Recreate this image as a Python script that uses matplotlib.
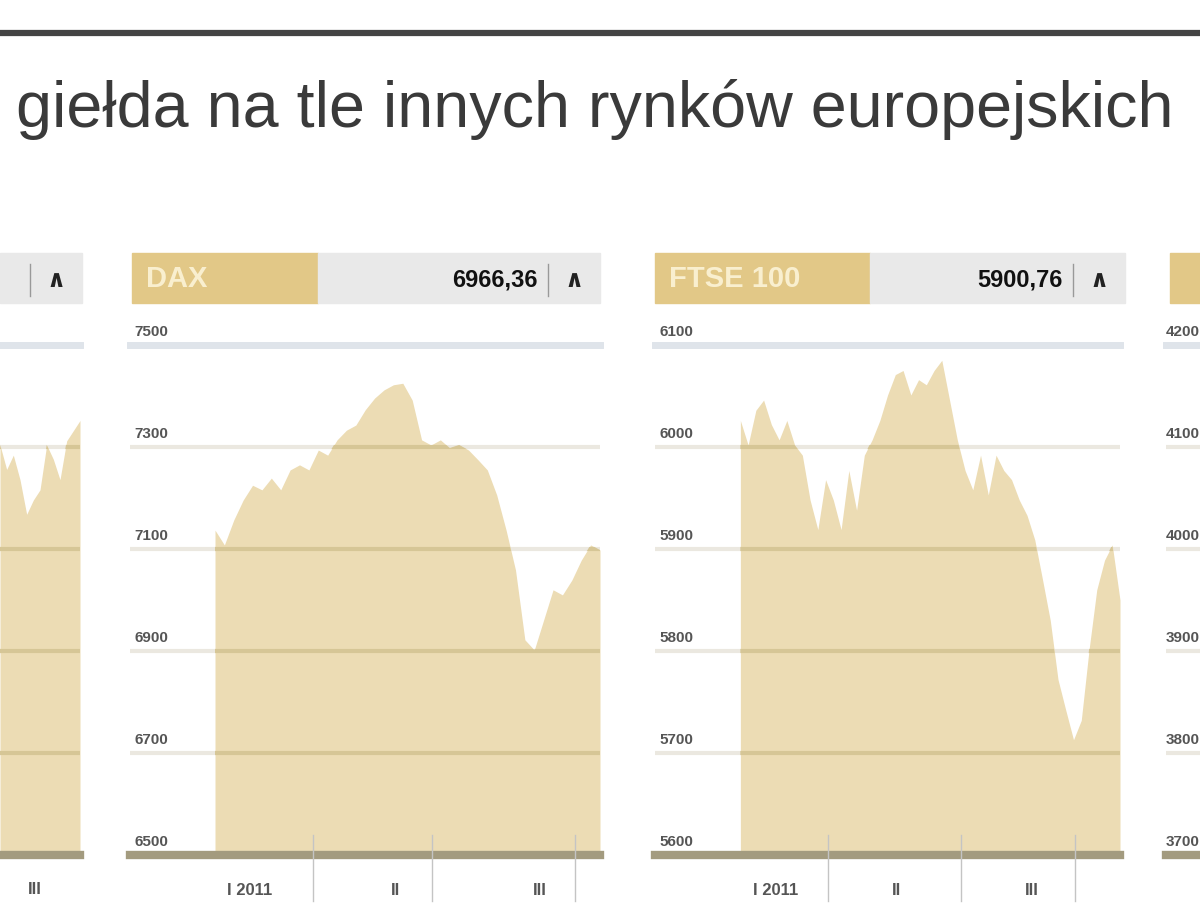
import matplotlib.pyplot as plt
from matplotlib.patches import Rectangle
from matplotlib.lines import Line2D
import matplotlib.transforms as mtransforms

# Data (index closes, early 2011)
title = "giełda na tle innych rynków europejskich"

wig_vals = [2851, 2839, 2846, 2834, 2817, 2824, 2829, 2851, 2844, 2834, 2853, 2858, 2863]
wig_ticks = [2650, 2700, 2750, 2800, 2850, 2900]

dax_name = "DAX"
dax_last = "6966,36"
dax_vals = [7137, 7108, 7157, 7196, 7225, 7216, 7239, 7216, 7255, 7265,
            7255, 7294, 7284, 7314, 7333, 7343, 7373, 7396, 7412, 7422,
            7425, 7392, 7314, 7304, 7314, 7298, 7304, 7294, 7275, 7255,
            7206, 7137, 7059, 6922, 6902, 6961, 7020, 7010, 7039, 7078,
            7108, 7098]
dax_ticks = [6500, 6700, 6900, 7100, 7300, 7500]
dax_month_ticks = [10.4, 23.1, 38.3]
dax_month_pos = [3.7, 19.2, 34.6]

ftse_name = "FTSE 100"
ftse_last = "5900,76"
ftse_vals = [6026, 6002, 6036, 6046, 6022, 6007, 6026, 6002, 5992, 5948,
             5919, 5968, 5948, 5919, 5977, 5938, 5992, 6007, 6026, 6051,
             6071, 6075, 6051, 6066, 6061, 6075, 6085, 6046, 6007, 5977,
             5958, 5992, 5953, 5992, 5977, 5968, 5948, 5933, 5909, 5870,
             5830, 5772, 5742, 5713, 5732, 5801, 5860, 5889, 5904, 5850]
ftse_ticks = [5600, 5700, 5800, 5900, 6000, 6100]
ftse_month_ticks = [11.3, 28.5, 43.2]
ftse_month_pos = [4.5, 20.1, 37.6]

cac_ticks = [3700, 3800, 3900, 4000, 4100, 4200]

month_labels = ["I 2011", "II", "III"]

W, H = 1200, 923
FILL = "#ecdcb4"
LABEL = "#555555"

plt.rcParams['font.family'] = ['Liberation Sans', 'DejaVu Sans']

fig = plt.figure(figsize=(12, 9.23), dpi=100)


def fx(x):
    return x / W


def fy(y):
    return 1 - y / H


def rect(x0, y0, x1, y1, color):
    fig.patches.append(Rectangle((fx(x0), fy(y1)), fx(x1 - x0), fy(y0) - fy(y1),
                                 transform=fig.transFigure, color=color, zorder=0))


def header(x0, xs, x1, name, value):
    if xs > x0:
        rect(x0, 253, xs, 303, "#e2c887")
        fig.text(fx(x0 + 14), fy(279), name, color="#f9efcf", fontsize=21,
                 fontweight="bold", va="center")
    if x1 > xs:
        rect(xs, 253, x1, 303, "#e9e9e9")
    if value is not None:
        fig.text(fx(x1 - 62), fy(280), value, color="#111111", fontsize=17,
                 fontweight="bold", va="center", ha="right")
        fig.lines.append(Line2D([fx(x1 - 52)] * 2, [fy(264), fy(296)],
                                transform=fig.transFigure, color="#999999", lw=1))
        fig.text(fx(x1 - 26), fy(280), "∧", color="#222222", fontsize=17,
                 fontweight="bold", va="center", ha="center",
                 family=["DejaVu Sans"])


def panel(left, right, vals, ticks, pad, show_labels=True,
          month_ticks=None, month_pos=None, label_x=0.01):
    top, bottom = 345, 855
    ax = fig.add_axes([fx(left), fy(bottom), fx(right - left), fy(top) - fy(bottom)])
    n = len(vals)
    ax.set_xlim(-pad, n - 1 if n else 1)
    ax.set_ylim(ticks[0], ticks[-1])
    area = None
    if n:
        area = ax.fill_between(range(n), vals, ticks[0], color=FILL, lw=0, zorder=1)
    for t in ticks[1:-1]:
        # faint on the white background, darker tan where it crosses the area
        ax.axhline(t, color="#ebe8e0", lw=3, zorder=0.5)
        if area is not None:
            ln = ax.axhline(t, color="#d6c696", lw=3, zorder=2)
            ln.set_clip_path(area.get_paths()[0], ax.transData)
    ax.axhline(ticks[-1], color="#dfe4ea", lw=5, zorder=2, clip_on=False)
    ax.axhline(ticks[0], color="#a39b7f", lw=6, zorder=3, clip_on=False)
    if show_labels:
        off = mtransforms.offset_copy(ax.get_yaxis_transform(), fig=fig,
                                      x=0, y=13, units="dots")
        for t in ticks:
            ax.text(label_x, t, str(t), transform=off, fontsize=11,
                    fontweight="bold", color=LABEL, va="center", ha="left",
                    clip_on=False)
    if month_ticks:
        for m in month_ticks:
            ax.plot([m, m], [-0.09, 0.04], color="#c4c4c4", lw=1,
                    transform=ax.get_xaxis_transform(), clip_on=False, zorder=4)
        for m, lab in zip(month_pos, month_labels):
            ax.text(m, -0.07, lab, transform=ax.get_xaxis_transform(),
                    fontsize=12, fontweight="bold", color=LABEL,
                    ha="center", va="center")
    ax.axis("off")
    return ax


# top rule and title
fig.lines.append(Line2D([0, 1], [fy(33)] * 2, transform=fig.transFigure,
                        color="#444444", lw=4.5))
fig.text(fx(16), fy(110), title, fontsize=46.5, color="#3a3a3a", va="center",
         ha="left")

# left partial panel (cut off by the frame)
header(0, 0, 82, "", "")
panel(0, 80, wig_vals, wig_ticks, 0, show_labels=False)
fig.text(fx(35), fy(890), "III", fontsize=12, fontweight="bold",
         color=LABEL, ha="center", va="center")

# DAX
header(132, 318, 600, dax_name, dax_last)
panel(130, 600, dax_vals, dax_ticks, 85 / 385 * (len(dax_vals) - 1),
      month_ticks=dax_month_ticks, month_pos=dax_month_pos)

# FTSE 100
header(655, 870, 1125, ftse_name, ftse_last)
panel(655, 1120, ftse_vals, ftse_ticks, 85 / 378 * (len(ftse_vals) - 1),
      month_ticks=ftse_month_ticks, month_pos=ftse_month_pos)

# right partial panel
rect(1170, 253, 1200, 303, "#e2c887")
panel(1166, 1636, [], cac_ticks, 10, label_x=0.0)

fig.savefig("out.png", dpi=100)
